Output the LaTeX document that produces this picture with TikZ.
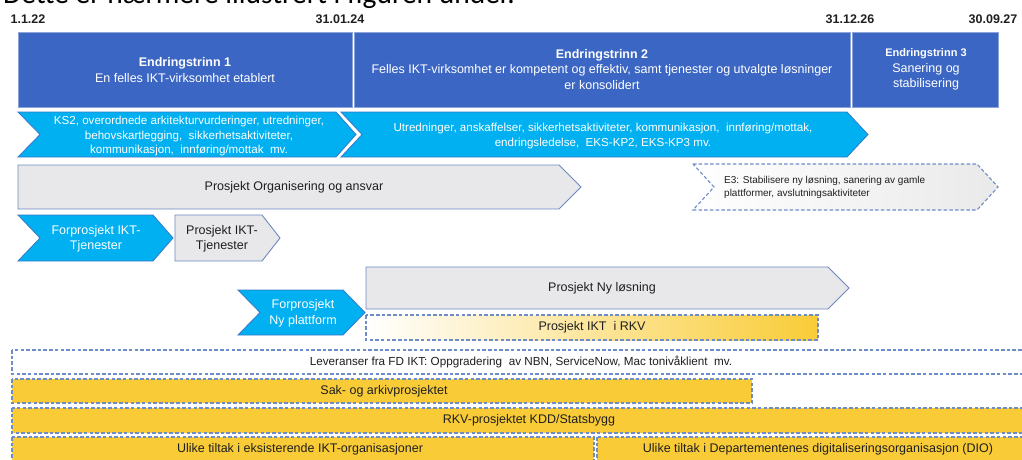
\documentclass[tikz,border=0pt]{standalone}
\usepackage{fontspec}
\setmainfont{Liberation Sans}
\newfontfamily\headfont{Carlito}
\definecolor{phaseblue}{HTML}{3C66C4}
\definecolor{phaseedge}{HTML}{8CA4DA}
\definecolor{cyanfill}{HTML}{00B0F0}
\definecolor{cyanedge}{HTML}{3A78C9}
\definecolor{greyfill}{HTML}{E8E7EA}
\definecolor{greyedge}{HTML}{6E89C2}
\definecolor{dashblue}{HTML}{6E8CC8}
\definecolor{goldfill}{HTML}{F9CC37}
\definecolor{ink}{HTML}{1F1F1F}
\begin{document}
\begin{tikzpicture}[x=1pt,y=-1pt,
  phasebox/.style={fill=phaseblue,draw=phaseedge,line width=0.8pt},
  cyanshape/.style={fill=cyanfill,draw=cyanedge,line width=0.8pt},
  greyshape/.style={fill=greyfill,draw=greyedge,line width=0.9pt},
  dashbox/.style={draw=dashblue,line width=1.1pt,dash pattern=on 3.5pt off 2.2pt},
  goldbox/.style={dashbox,fill=goldfill},
  txt/.style={font=\fontsize{12.5}{15.5}\selectfont,align=center,inner sep=0pt,text=ink},
  wtxt/.style={txt,text=white},
  datelbl/.style={font=\fontsize{12.5}{14}\selectfont\bfseries,inner sep=0pt,text=ink}]
\useasboundingbox (0,0) rectangle (1022,460);
\clip (0,0) rectangle (1022,460);

% heading line above the chart (only its lower part is on the page)
\node[anchor=base west,inner sep=0pt,font=\headfont\fontsize{29.5}{32}\selectfont] (heading) at (3,3.5) {Dette er nærmere illustrert i figuren under.};

% milestone dates
\node[datelbl] (d1) at (28,19.5) {1.1.22};
\node[datelbl] (d2) at (340,19.5) {31.01.24};
\node[datelbl] (d3) at (850,19.5) {31.12.26};
\node[datelbl] (d4) at (993,19.5) {30.09.27};

% phases
\path[phasebox] (18,32) rectangle (352,107);
\path[phasebox] (354,32) rectangle (850,107);
\path[phasebox] (852,32) rectangle (998,107);
\node[wtxt] (e1) at (185,70) {\textbf{Endringstrinn 1}\\En felles IKT-virksomhet etablert};
\node[wtxt] (e2) at (602,69.5) {\textbf{Endringstrinn 2}\\Felles IKT-virksomhet er kompetent og effektiv, samt tjenester og utvalgte løsninger\\er konsolidert};
\node[wtxt] (e3) at (926,69.5) {{\fontsize{11}{13}\selectfont\textbf{Endringstrinn 3}}\\Sanering og\\stabilisering};

% activity chevrons
\path[cyanshape] (18,112) -- (336,112) -- (356,134.5) -- (336,157) -- (18,157) -- (40,134.5) -- cycle;
\node[wtxt,font=\fontsize{11.6}{14.2}\selectfont] (a1) at (189,136) {KS2, overordnede arkitekturvurderinger, utredninger,\\behovskartlegging,\ \ sikkerhetsaktiviteter,\\kommunikasjon,\ \ innføring/mottak\ \ mv.};
\path[cyanshape] (341,112) -- (847,112) -- (868,134.5) -- (847,157) -- (341,157) -- (362,134.5) -- cycle;
\node[wtxt,font=\fontsize{11.6}{15}\selectfont] (a2) at (603,135.5) {Utredninger, anskaffelser, sikkerhetsaktiviteter, kommunikasjon,\ \ innføring/mottak,\\endringsledelse,\ \ EKS-KP2, EKS-KP3 mv.};

% organisation project
\path[greyshape] (18,165) -- (559,165) -- (581,187) -- (559,209) -- (18,209) -- cycle;
\node[txt] (org) at (294,187) {Prosjekt Organisering og ansvar};

% stage 3 wrap-up
\path[dashbox,left color=white,right color=gray!17] (693,164) -- (977,164) -- (998,187) -- (977,210) -- (693,210) -- (714,187) -- cycle;
\node[txt,anchor=west,align=left,font=\fontsize{10}{13}\selectfont] (wrap) at (724,187.5) {E3: Stabilisere ny løsning, sanering av gamle\\plattformer, avslutningsaktiviteter};

% IKT services
\path[cyanshape] (18,215) -- (153,215) -- (173,238) -- (153,261) -- (18,261) -- (40,238) -- cycle;
\node[wtxt] (fikt) at (96,239) {Forprosjekt IKT-\\Tjenester};
\path[greyshape] (175,215) -- (262,215) -- (280,238) -- (262,261) -- (175,261) -- cycle;
\node[txt] (pikt) at (222,239) {Prosjekt IKT-\\Tjenester};

% new solution
\path[cyanshape] (238,290) -- (343,290) -- (365,312.5) -- (343,335) -- (238,335) -- (260,312.5) -- cycle;
\node[wtxt] (fny) at (303,313.5) {Forprosjekt\\Ny plattform};
\path[greyshape] (366,267) -- (828,267) -- (849,288) -- (828,309) -- (366,309) -- cycle;
\node[txt] (pny) at (602,288) {Prosjekt Ny løsning};
\path[dashbox,left color=white,right color=goldfill] (366,315) rectangle (818,340);
\node[txt] (rkvikt) at (592,327.5) {Prosjekt IKT\ \ i RKV};

% parallel streams
\path[dashbox,fill=white] (12,350) rectangle (1040,374);
\node[txt,font=\fontsize{11.7}{14}\selectfont] (fd) at (521,362) {Leveranser fra FD IKT: Oppgradering\ \ av NBN, ServiceNow, Mac tonivåklient\ \ mv.};
\path[goldbox] (12,379) rectangle (752,403);
\node[txt] (sak) at (384,391) {Sak- og arkivprosjektet};
\path[goldbox] (12,408) rectangle (1040,433);
\node[txt] (kdd) at (529,420.5) {RKV-prosjektet KDD/Statsbygg};
\path[goldbox] (12,437) rectangle (594,475);
\node[txt] (ikt) at (300,449) {Ulike tiltak i eksisterende IKT-organisasjoner};
\path[goldbox] (597,437) rectangle (1040,475);
\node[txt] (dio) at (818,449) {Ulike tiltak i Departementenes digitaliseringsorganisasjon (DIO)};
\end{tikzpicture}
\end{document}
